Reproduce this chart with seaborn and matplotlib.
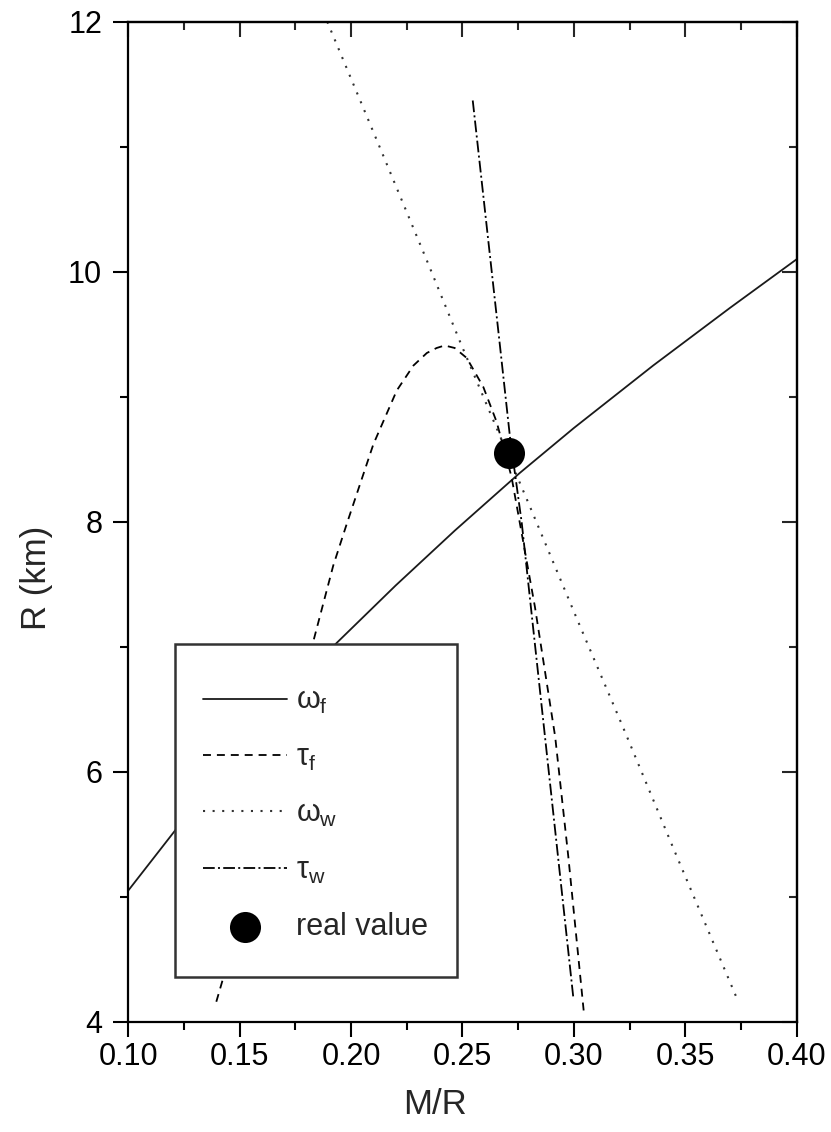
import matplotlib
matplotlib.use("Agg")
import matplotlib.pyplot as plt
import seaborn as sns
from matplotlib.ticker import MultipleLocator, FormatStrFormatter
from matplotlib.patches import Rectangle
from matplotlib import font_manager

# ---- data ----
wf_x = [0.100, 0.121, 0.150, 0.175, 0.1935, 0.220, 0.2466, 0.2757, 0.300, 0.3356, 0.370, 0.400]
wf_y = [5.05, 5.53, 6.18, 6.68, 7.03, 7.49, 7.93, 8.39, 8.75, 9.25, 9.71, 10.10]

tf_x = [0.1395, 0.1426, 0.160, 0.183, 0.192, 0.198, 0.210, 0.2205, 0.228, 0.234, 0.2384,
        0.242, 0.2465, 0.2519, 0.2593, 0.2653, 0.272, 0.2825, 0.2916, 0.2975, 0.3045]
tf_y = [4.16, 4.35, 5.50, 7.04, 7.65, 7.98, 8.62, 9.05, 9.25, 9.35, 9.39,
        9.41, 9.39, 9.31, 9.08, 8.80, 8.36, 7.32, 6.28, 5.32, 4.07]

ww_x = [0.1893, 0.213, 0.234, 0.2496, 0.281, 0.3012, 0.3222, 0.3446, 0.3738]
ww_y = [12.00, 10.99, 10.09, 9.41, 8.09, 7.23, 6.35, 5.39, 4.16]

tw_x = [0.2546, 0.2668, 0.2713, 0.2766, 0.293, 0.2997]
tw_y = [11.37, 9.41, 8.68, 7.99, 5.30, 4.20]

real_x = [0.2709]
real_y = [8.55]

labels = [r"$\omega_f$", r"$\tau_f$", r"$\omega_w$", r"$\tau_w$", "real value"]
xticks = [0.10, 0.15, 0.20, 0.25, 0.30, 0.35, 0.40]
yticks = [4, 6, 8, 10, 12]

# ---- style ----
sns.set_style("ticks")
names = {f.name for f in font_manager.fontManager.ttflist}
fam = "Liberation Sans" if "Liberation Sans" in names else "DejaVu Sans"
plt.rcParams["font.family"] = [fam, "DejaVu Sans"]
plt.rcParams["mathtext.fontset"] = "custom"
plt.rcParams["mathtext.rm"] = fam
plt.rcParams["mathtext.it"] = fam
plt.rcParams["mathtext.bf"] = fam + ":bold"

fig = plt.figure(figsize=(8.31, 11.32), dpi=100)
ax = fig.add_axes([0.1544, 0.0974, 0.8043, 0.8834])

lw = 1.3
sns.lineplot(x=wf_x, y=wf_y, ax=ax, color="#1a1a1a", lw=lw, sort=False,
             estimator=None, label=labels[0])
sns.lineplot(x=tf_x, y=tf_y, ax=ax, color="black", lw=lw, sort=False,
             estimator=None, label=labels[1], linestyle=(0, (4.4, 3.3)))
sns.lineplot(x=ww_x, y=ww_y, ax=ax, color="#333333", lw=1.5, sort=False,
             estimator=None, label=labels[2], linestyle=(0, (1.0, 3.6)))
sns.lineplot(x=tw_x, y=tw_y, ax=ax, color="black", lw=lw, sort=False,
             estimator=None, label=labels[3], linestyle=(0, (6.5, 1.8, 1.1, 1.8)))
sns.scatterplot(x=real_x, y=real_y, ax=ax, s=500, color="black",
                edgecolor="black", linewidth=0, label=labels[4], zorder=5)

ax.set_xlim(0.10, 0.40)
ax.set_ylim(4, 12)
ax.set_xticks(xticks)
ax.set_yticks(yticks)
ax.xaxis.set_minor_locator(MultipleLocator(0.025))
ax.yaxis.set_minor_locator(MultipleLocator(1))
ax.xaxis.set_major_formatter(FormatStrFormatter("%.2f"))
ax.tick_params(which="major", direction="out", length=10.8, width=1.5,
               labelsize=22, color="black", labelcolor="black")
ax.tick_params(axis="x", which="major", pad=4)
ax.tick_params(axis="y", which="major", pad=8)
ax.tick_params(which="minor", direction="out", length=5.8, width=1.5, color="black")
ax.tick_params(top=False, right=False, which="both")

for s in ax.spines.values():
    s.set_visible(True)
    s.set_linewidth(1.6)
    s.set_color("black")

secx = ax.secondary_xaxis("top")
secx.set_xticks(xticks)
secx.xaxis.set_minor_locator(MultipleLocator(0.025))
secx.tick_params(which="major", direction="in", length=10.8, width=1.5, labeltop=False)
secx.tick_params(which="minor", direction="in", length=5.8, width=1.5)
secx.spines["top"].set_linewidth(1.6)

secy = ax.secondary_yaxis("right")
secy.set_yticks(yticks)
secy.yaxis.set_minor_locator(MultipleLocator(1))
secy.tick_params(which="major", direction="in", length=10.8, width=1.5, labelright=False)
secy.tick_params(which="minor", direction="in", length=5.8, width=1.5)
secy.spines["right"].set_linewidth(1.6)

ax.set_xlabel("M/R", fontsize=25)
ax.set_ylabel("R (km)", fontsize=25)
ax.xaxis.set_label_coords(0.459, -0.066)
ax.yaxis.set_label_coords(-0.112, 0.444)

# legend frame (box) drawn as a patch, entries placed inside it
frame = Rectangle((0.0699, 0.0447), 0.4219, 0.333, transform=ax.transAxes,
                  facecolor="white", edgecolor="#333333", linewidth=1.8, zorder=4.5)
ax.add_patch(frame)

handles, labs = ax.get_legend_handles_labels()
leg = ax.legend(handles, labs, loc="upper left", bbox_to_anchor=(0.0699, 0.3629),
                borderaxespad=0, frameon=False,
                fontsize=22, handlelength=2.75, handletextpad=0.3, borderpad=0.9,
                labelspacing=0.86, scatterpoints=1)
leg.set_zorder(6)

fig.savefig("out.png", dpi=100)
